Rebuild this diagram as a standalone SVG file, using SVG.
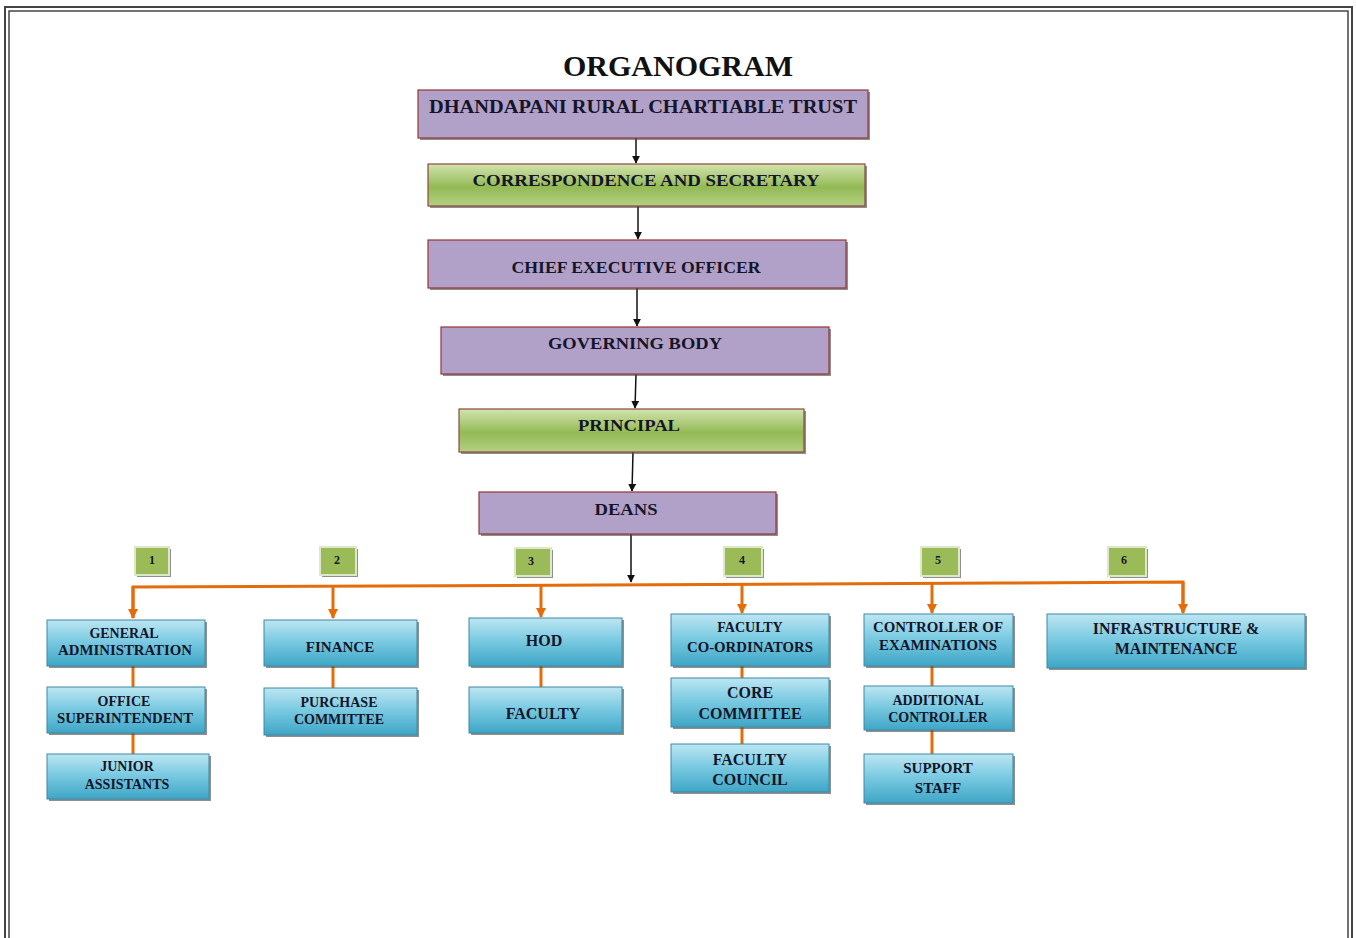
<svg xmlns="http://www.w3.org/2000/svg" width="1356" height="938" viewBox="0 0 1356 938">
<defs>
<linearGradient id="gGreen" x1="0" y1="0" x2="0" y2="1">
<stop offset="0" stop-color="#d3e3ae"/><stop offset="0.55" stop-color="#93ba55"/><stop offset="1" stop-color="#b5cf82"/>
</linearGradient>
<linearGradient id="gBlue" x1="0" y1="0" x2="0" y2="1">
<stop offset="0" stop-color="#bde6f2"/><stop offset="0.45" stop-color="#7ccbe2"/><stop offset="1" stop-color="#3ea6c6"/>
</linearGradient>
<marker id="ab" viewBox="0 0 10 10" refX="9" refY="5" markerWidth="8" markerHeight="8" orient="auto" markerUnits="userSpaceOnUse"><path d="M0,0 L10,5 L0,10 z" fill="#111"/></marker>
<marker id="ao" viewBox="0 0 10 10" refX="9" refY="5" markerWidth="10" markerHeight="10" orient="auto" markerUnits="userSpaceOnUse"><path d="M0,0 L10,5 L0,10 z" fill="#e46c0a"/></marker>
<style>
.t{font-family:"Liberation Serif","Times New Roman",serif;font-weight:bold;fill:#15152a;text-anchor:middle}
.pur{fill:#b1a0c7;stroke:#943634;stroke-width:1.2}
.grn{fill:url(#gGreen);stroke:#8a4a3a;stroke-width:1.2}
.blu{fill:url(#gBlue);stroke:#3b8aa6;stroke-width:1}
.sh{fill:#444;opacity:0.6}
.num{fill:#9bbb59;stroke:#dde8c8;stroke-width:2}
.bk{stroke:#111;stroke-width:1.5;fill:none}
.or{stroke:#e46c0a;stroke-width:3;fill:none}
</style>
</defs>
<rect x="0" y="0" width="1356" height="938" fill="#fff"/>
<g id="border" fill="none" stroke="#444">
<path d="M5,940 V7 H1352 V940" stroke-width="2"/>
<path d="M9,940 V11 H1348 V940" stroke-width="1.5"/>
</g>
<text class="t" x="678" y="76" font-size="30" fill="#111" style="fill:#111">ORGANOGRAM</text>

<g id="connectors">
<line class="bk" x1="636" y1="138" x2="636" y2="163" marker-end="url(#ab)"/>
<line class="bk" x1="638" y1="206" x2="638" y2="239" marker-end="url(#ab)"/>
<line class="bk" x1="637" y1="288" x2="637" y2="326" marker-end="url(#ab)"/>
<line class="bk" x1="636" y1="374" x2="635" y2="408" marker-end="url(#ab)"/>
<line class="bk" x1="633" y1="452" x2="632" y2="491" marker-end="url(#ab)"/>
<line class="bk" x1="631" y1="534" x2="631" y2="582" marker-end="url(#ab)"/>
<path class="or" d="M133,618 V587 L600,585 L1000,583 L1183,582 V612"/>
<line class="or" x1="133" y1="587" x2="133" y2="618" marker-end="url(#ao)"/>
<line class="or" x1="333" y1="586" x2="333" y2="618" marker-end="url(#ao)"/>
<line class="or" x1="541" y1="586" x2="541" y2="617" marker-end="url(#ao)"/>
<line class="or" x1="742" y1="585" x2="742" y2="613" marker-end="url(#ao)"/>
<line class="or" x1="932" y1="584" x2="932" y2="613" marker-end="url(#ao)"/>
<line class="or" x1="1183" y1="582" x2="1183" y2="613" marker-end="url(#ao)"/>
<line class="or" x1="133" y1="666" x2="133" y2="687"/>
<line class="or" x1="133" y1="733" x2="133" y2="754"/>
<line class="or" x1="333" y1="666" x2="333" y2="688"/>
<line class="or" x1="541" y1="666" x2="541" y2="687"/>
<line class="or" x1="742" y1="666" x2="742" y2="678"/>
<line class="or" x1="742" y1="727" x2="742" y2="744"/>
<line class="or" x1="932" y1="666" x2="932" y2="686"/>
<line class="or" x1="932" y1="730" x2="932" y2="754"/>
</g>

<g id="n-trust"><rect class="sh" x="420" y="92" width="450" height="48"/><rect class="pur" x="418" y="90" width="450" height="48"/><text class="t" x="643" y="113" font-size="19" textLength="428" lengthAdjust="spacingAndGlyphs">DHANDAPANI RURAL CHARTIABLE TRUST</text></g>
<g id="n-corr"><rect class="sh" x="430" y="166" width="437" height="42"/><rect class="grn" x="428" y="164" width="437" height="42"/><text class="t" x="646" y="186" font-size="17" textLength="347" lengthAdjust="spacingAndGlyphs">CORRESPONDENCE AND SECRETARY</text></g>
<g id="n-ceo"><rect class="sh" x="430" y="242" width="418" height="48"/><rect class="pur" x="428" y="240" width="418" height="48"/><text class="t" x="636" y="273" font-size="17" textLength="249" lengthAdjust="spacingAndGlyphs">CHIEF EXECUTIVE OFFICER</text></g>
<g id="n-gov"><rect class="sh" x="443" y="329" width="388" height="47"/><rect class="pur" x="441" y="327" width="388" height="47"/><text class="t" x="635" y="349" font-size="17" textLength="174" lengthAdjust="spacingAndGlyphs">GOVERNING BODY</text></g>
<g id="n-principal"><rect class="sh" x="461" y="411" width="345" height="43"/><rect class="grn" x="459" y="409" width="345" height="43"/><text class="t" x="629" y="431" font-size="17" textLength="102" lengthAdjust="spacingAndGlyphs">PRINCIPAL</text></g>
<g id="n-deans"><rect class="sh" x="481" y="494" width="297" height="42"/><rect class="pur" x="479" y="492" width="297" height="42"/><text class="t" x="626" y="515" font-size="17" textLength="63" lengthAdjust="spacingAndGlyphs">DEANS</text></g>

<g id="num1"><rect class="sh" x="137" y="549" width="34" height="28"/><rect class="num" x="135" y="547" width="34" height="28"/><text class="t" x="152" y="564" font-size="12">1</text></g>
<g id="num2"><rect class="sh" x="322" y="549" width="36" height="28"/><rect class="num" x="320" y="547" width="36" height="28"/><text class="t" x="337" y="564" font-size="12">2</text></g>
<g id="num3"><rect class="sh" x="517" y="550" width="36" height="28"/><rect class="num" x="515" y="548" width="36" height="28"/><text class="t" x="531" y="565" font-size="12">3</text></g>
<g id="num4"><rect class="sh" x="726" y="549" width="38" height="29"/><rect class="num" x="724" y="547" width="38" height="29"/><text class="t" x="742" y="564" font-size="12">4</text></g>
<g id="num5"><rect class="sh" x="923" y="549" width="38" height="29"/><rect class="num" x="921" y="547" width="38" height="29"/><text class="t" x="938" y="564" font-size="12">5</text></g>
<g id="num6"><rect class="sh" x="1110" y="549" width="38" height="29"/><rect class="num" x="1108" y="547" width="38" height="29"/><text class="t" x="1124" y="564" font-size="12">6</text></g>

<g id="n-genadmin"><rect class="sh" x="49" y="622" width="158" height="46"/><rect class="blu" x="47" y="620" width="158" height="46"/><text class="t" x="124" y="638" font-size="14">GENERAL</text><text class="t" x="125" y="655" font-size="14" textLength="134" lengthAdjust="spacingAndGlyphs">ADMINISTRATION</text></g>
<g id="n-office"><rect class="sh" x="49" y="689" width="158" height="46"/><rect class="blu" x="47" y="687" width="158" height="46"/><text class="t" x="124" y="706" font-size="14">OFFICE</text><text class="t" x="125" y="723" font-size="14" textLength="136" lengthAdjust="spacingAndGlyphs">SUPERINTENDENT</text></g>
<g id="n-junior"><rect class="sh" x="49" y="756" width="162" height="45"/><rect class="blu" x="47" y="754" width="162" height="45"/><text class="t" x="127" y="771" font-size="14">JUNIOR</text><text class="t" x="127" y="789" font-size="14">ASSISTANTS</text></g>
<g id="n-finance"><rect class="sh" x="266" y="622" width="153" height="46"/><rect class="blu" x="264" y="620" width="153" height="46"/><text class="t" x="340" y="652" font-size="15">FINANCE</text></g>
<g id="n-purchase"><rect class="sh" x="266" y="690" width="153" height="47"/><rect class="blu" x="264" y="688" width="153" height="47"/><text class="t" x="339" y="707" font-size="14">PURCHASE</text><text class="t" x="339" y="724" font-size="14">COMMITTEE</text></g>
<g id="n-hod"><rect class="sh" x="471" y="620" width="153" height="48"/><rect class="blu" x="469" y="618" width="153" height="48"/><text class="t" x="544" y="646" font-size="16">HOD</text></g>
<g id="n-faculty"><rect class="sh" x="471" y="689" width="153" height="46"/><rect class="blu" x="469" y="687" width="153" height="46"/><text class="t" x="543" y="719" font-size="16">FACULTY</text></g>
<g id="n-fcoord"><rect class="sh" x="673" y="616" width="158" height="52"/><rect class="blu" x="671" y="614" width="158" height="52"/><text class="t" x="750" y="632" font-size="14">FACULTY</text><text class="t" x="750" y="652" font-size="14" textLength="126" lengthAdjust="spacingAndGlyphs">CO-ORDINATORS</text></g>
<g id="n-core"><rect class="sh" x="673" y="680" width="158" height="49"/><rect class="blu" x="671" y="678" width="158" height="49"/><text class="t" x="750" y="698" font-size="16">CORE</text><text class="t" x="750" y="719" font-size="16">COMMITTEE</text></g>
<g id="n-council"><rect class="sh" x="673" y="746" width="158" height="48"/><rect class="blu" x="671" y="744" width="158" height="48"/><text class="t" x="750" y="765" font-size="16">FACULTY</text><text class="t" x="750" y="785" font-size="16">COUNCIL</text></g>
<g id="n-coe"><rect class="sh" x="866" y="616" width="149" height="52"/><rect class="blu" x="864" y="614" width="149" height="52"/><text class="t" x="938" y="632" font-size="14" textLength="130" lengthAdjust="spacingAndGlyphs">CONTROLLER OF</text><text class="t" x="938" y="650" font-size="14" textLength="118" lengthAdjust="spacingAndGlyphs">EXAMINATIONS</text></g>
<g id="n-addl"><rect class="sh" x="866" y="688" width="149" height="44"/><rect class="blu" x="864" y="686" width="149" height="44"/><text class="t" x="938" y="705" font-size="14">ADDITIONAL</text><text class="t" x="938" y="722" font-size="14">CONTROLLER</text></g>
<g id="n-support"><rect class="sh" x="866" y="756" width="149" height="49"/><rect class="blu" x="864" y="754" width="149" height="49"/><text class="t" x="938" y="773" font-size="15">SUPPORT</text><text class="t" x="938" y="793" font-size="15">STAFF</text></g>
<g id="n-infra"><rect class="sh" x="1049" y="616" width="258" height="54"/><rect class="blu" x="1047" y="614" width="258" height="54"/><text class="t" x="1176" y="634" font-size="16">INFRASTRUCTURE  &amp;</text><text class="t" x="1176" y="654" font-size="16">MAINTENANCE</text></g>
</svg>
